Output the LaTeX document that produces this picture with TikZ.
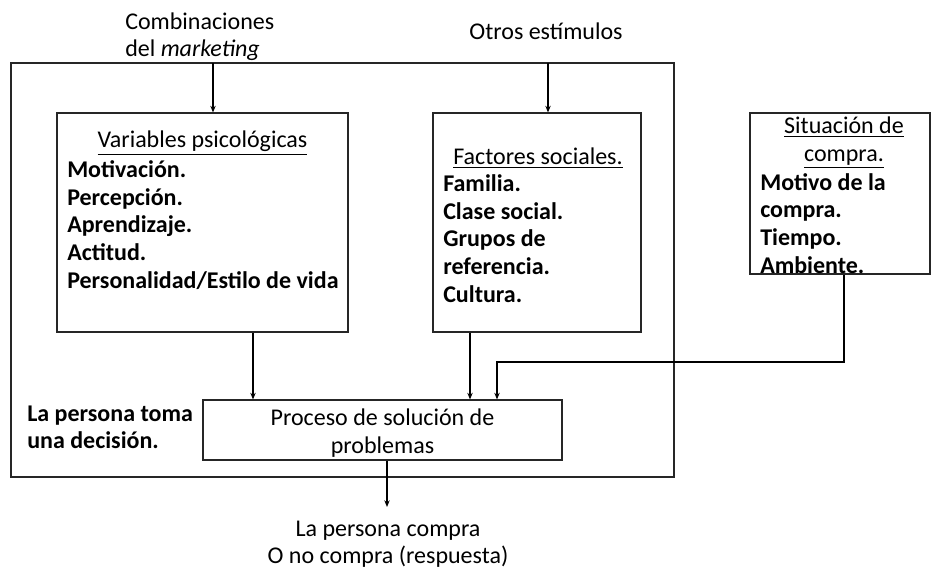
\documentclass[tikz,border=0pt]{standalone}
\usepackage{fontspec}
\setmainfont{Carlito}
\usetikzlibrary{arrows.meta}
\begin{document}
\begin{tikzpicture}[x=0.75pt,y=-0.75pt,
    box/.style={draw=black!85,line width=0.8pt,inner sep=0pt},
    lbl/.style={inner sep=0pt,anchor=base,font=\fontsize{18}{20.5}\selectfont},
    item/.style={lbl,anchor=base west,font=\bfseries\fontsize{18}{20.5}\selectfont},
    flow/.style={-{Stealth[length=5pt,width=4pt]},line width=1pt}]
  \useasboundingbox (0,0) rectangle (931,570);
  % boxes
  \node[box,minimum width=497.25pt,minimum height=310.5pt] (outer) at (342.5,270) {};
  \node[box,minimum width=218.25pt,minimum height=164.25pt] (vars) at (202.5,222.5) {};
  \node[box,minimum width=156pt,minimum height=164.25pt] (soc) at (537,222.5) {};
  \node[box,minimum width=135pt,minimum height=120.75pt] (sit) at (840,193.5) {};
  \node[box,minimum width=269.25pt,minimum height=45pt] (proc) at (382.5,430) {};
  % texts
  \node[lbl,anchor=base west] (mix1) at (125,30) {Combinaciones};
  \node[lbl,anchor=base west] (mix2) at (125,57) {del \textit{marketing}};
  \node[lbl] (otros) at (546,40) {Otros estímulos};
  \node[lbl] (vhead) at (202.5,148) {\underline{Variables psicológicas}};
  \foreach \t [count=\i] in {Motivación.,Percepción.,Aprendizaje.,Actitud.,Personalidad/Estilo de vida}
    \node[item] (v\i) at (67,150.5+27.5*\i) {\t};
  \node[lbl] (shead) at (538,165) {\underline{Factores sociales.}};
  \foreach \t [count=\i] in {Familia.,Clase social.,Grupos de,referencia.,Cultura.}
    \node[item] (s\i) at (443,164.5+27.5*\i) {\t};
  \node[lbl] (thead1) at (844,134) {\underline{Situación de}};
  \node[lbl] (thead2) at (844,162) {\underline{compra.}};
  \foreach \t [count=\i] in {Motivo de la,compra.,Tiempo.,Ambiente.}
    \node[item] (t\i) at (760,163+27.5*\i) {\t};
  \node[lbl] (proc1) at (proc.center |- 0,425) {Proceso de solución de};
  \node[lbl] (proc2) at (proc.center |- 0,453) {problemas};
  \node[item] (dec1) at (27,421) {La persona toma};
  \node[item] (dec2) at (27,448) {una decisión.};
  \node[lbl] (resp1) at (388,536) {La persona compra};
  \node[lbl] (resp2) at (388,563) {O no compra (respuesta)};
  % connectors
  \coordinate (in1) at (213,63);
  \coordinate (in2) at (548,63);
  \coordinate (bend) at (497,362);
  \draw[flow] (in1) -- (in1 |- vars.north);
  \draw[flow] (in2) -- (in2 |- soc.north);
  \draw[flow] (vars.south -| 253,0) -- (253,0 |- proc.north);
  \draw[flow] (soc.south -| 470,0) -- (470,0 |- proc.north);
  \draw[flow] (sit.south -| 844,0) |- (bend) -- (bend |- proc.north);
  \draw[flow] (proc.south -| 387,0) -- (387,507);
\end{tikzpicture}
\end{document}
